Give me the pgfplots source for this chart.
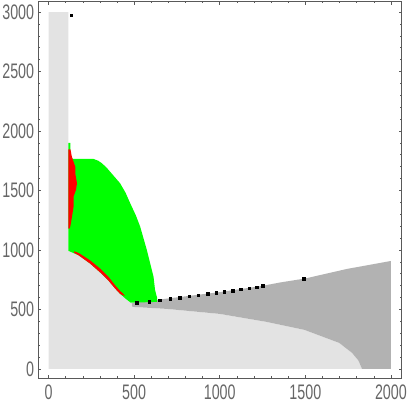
\documentclass[border=0pt]{standalone}
\usepackage{fontspec}
\setmainfont{Liberation Sans}
\usepackage{graphicx}
\usepackage{pgfplots}
\pgfplotsset{compat=1.18}

\definecolor{lgray}{gray}{0.89}
\definecolor{dgray}{gray}{0.70}
\definecolor{framec}{gray}{0.35}
\newcommand\lab[1]{\scalebox{0.68}[1]{#1}}

\begin{document}
\begin{tikzpicture}
\begin{axis}[
    width=363.4pt, height=376.3pt, scale only axis,
    xmin=-60, xmax=2063, ymin=-77, ymax=3087,
    xtick={0,500,1000,1500,2000},
    ytick={0,500,1000,1500,2000,2500,3000},
    xticklabels={\lab{0},\lab{500},\lab{1000},\lab{1500},\lab{2000}},
    yticklabels={\lab{0},\lab{500},\lab{1000},\lab{1500},\lab{2000},\lab{2500},\lab{3000}},
    minor x tick num=4, minor y tick num=4,
    tick align=inside, major tick length=3pt, minor tick length=1.7pt,
    axis line style={framec, line width=0.8pt},
    tick style={framec, line width=0.6pt},
    tick label style={font=\fontsize{21}{21}\selectfont, text=black!60},
    xticklabel style={anchor=north, inner sep=0pt, yshift=-7pt},
    yticklabel style={anchor=east, inner sep=0pt, xshift=-4pt},
]
% light gray region
\addplot[fill=lgray, draw=none] coordinates {
    (0,0) (0,3000) (116,3000) (116,992) (175,955) (243,885) (302,810)
    (351,740) (389,675) (418,630) (450,590) (480,556) (490,521) (692,504)
    (1000,462) (1273,395) (1494,328) (1698,218) (1773,134) (1810,70) (1831,0)
} -- cycle;
% dark gray region
\addplot[fill=dgray, draw=none] coordinates {
    (484,552) (700,592) (1000,645) (1250,698) (1352,726) (1500,760)
    (1743,840) (2000,907) (2000,0) (1831,0) (1810,70) (1773,134) (1698,218)
    (1494,328) (1273,395) (1000,462) (692,504) (490,521)
} -- cycle;
% green region
\addplot[fill=green, draw=none] coordinates {
    (116,992) (116,1899) (128,1899) (128,1775) (145,1765) (262,1765)
    (290,1750) (312,1728) (340,1690) (370,1640) (418,1560) (450,1480)
    (477,1392) (510,1290) (535,1196) (574,1000) (595,880)
    (613,776) (622,664) (634,597) (634,563) (480,556) (450,590) (418,630)
    (389,675) (351,740) (302,810) (243,885) (175,955)
} -- cycle;
% red strip on the left
\addplot[fill=red, draw=none] coordinates {
    (116,1180) (116,1845) (128,1845) (135,1790) (142,1756) (156,1700)
    (156,1644) (166,1560) (160,1504) (146,1448) (146,1364) (137,1280)
    (127,1196) (122,1180)
} -- cycle;
% red band along the lower edge
\addplot[fill=red, draw=none] coordinates {
    (150,988) (175,975) (243,912) (302,842) (351,772) (389,702) (418,655)
    (440,625) (445,612) (418,630) (389,675) (351,740) (302,810) (243,885)
    (175,955) (150,975)
} -- cycle;
% black points
\addplot[only marks, mark=square*, mark size=1.3pt, black] coordinates {
    (132,2975) (516,557) (588,566) (648,577) (710,588) (765,599) (821,611)
    (875,619) (930,630) (979,639) (1025,647) (1074,658) (1123,670)
    (1171,678) (1216,687) (1251,697) (1492,756)
};
\end{axis}
\path ([shift={(-38.3pt,-31pt)}]current axis.south west)
    rectangle ([shift={(7.3pt,1.7pt)}]current axis.north east);
\end{tikzpicture}
\end{document}
